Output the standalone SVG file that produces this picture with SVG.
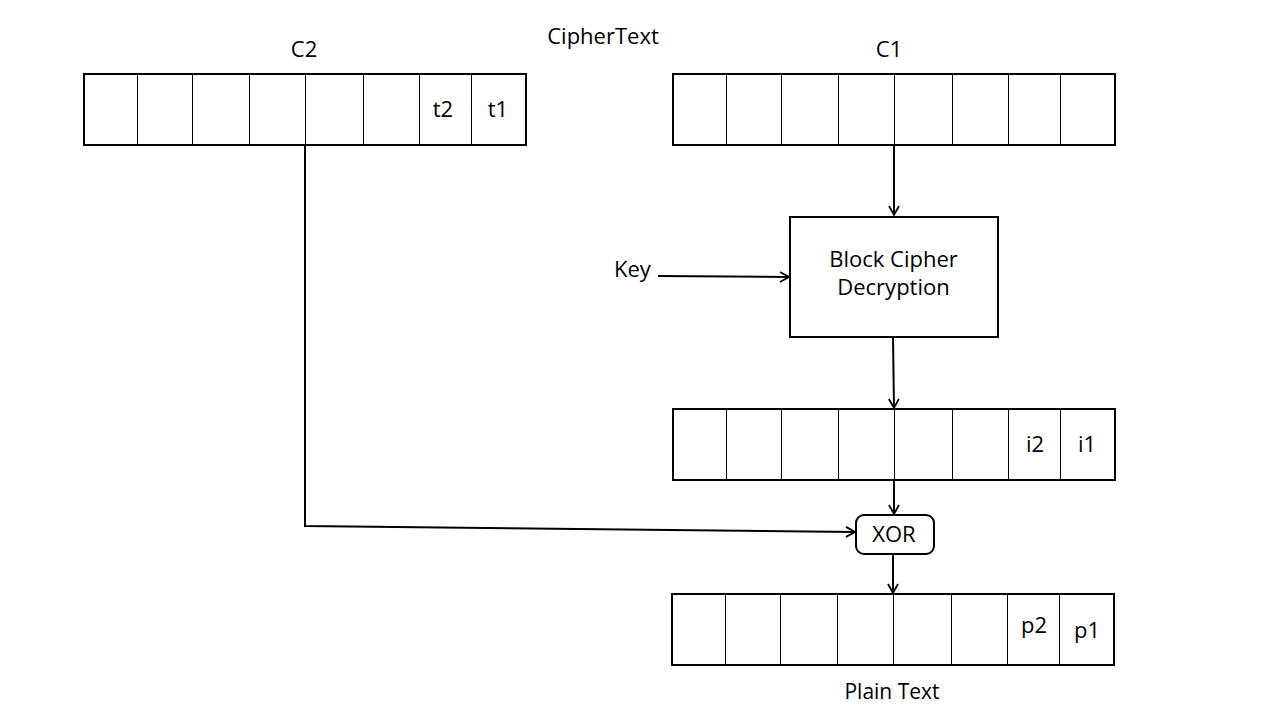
<svg xmlns="http://www.w3.org/2000/svg" width="1280" height="720" viewBox="0 0 1280 720">
<style>
.outer{fill:none;stroke:#000;stroke-width:2}
.div{stroke:#000;stroke-width:1}
.t{font-family:"Open Sans","Liberation Sans",sans-serif;font-size:22px;fill:#000;text-anchor:middle}
.lbl{font-family:"Open Sans","Liberation Sans",sans-serif;font-size:22px;fill:#000}
.conn{fill:none;stroke:#000;stroke-width:2}
</style>
<defs>
<marker id="arr" viewBox="0 0 12 12" refX="10" refY="6" markerWidth="12" markerHeight="12" markerUnits="userSpaceOnUse" orient="auto">
<path d="M1,1 L10,6 L1,11" fill="none" stroke="#000" stroke-width="1.8"/>
</marker>
</defs>
<rect width="1280" height="720" fill="#fff"/>

<text class="t" x="603" y="44">CipherText</text>

<g id="c2">
<text class="t" x="304" y="57">C2</text>
<rect class="outer" x="84" y="74" width="442" height="71"/>
<line class="div" x1="137.5" y1="74" x2="137.5" y2="145"/>
<line class="div" x1="192.5" y1="74" x2="192.5" y2="145"/>
<line class="div" x1="249.5" y1="74" x2="249.5" y2="145"/>
<line class="div" x1="305.5" y1="74" x2="305.5" y2="145"/>
<line class="div" x1="363.5" y1="74" x2="363.5" y2="145"/>
<line class="div" x1="419.5" y1="74" x2="419.5" y2="145"/>
<line class="div" x1="471.5" y1="74" x2="471.5" y2="145"/>
<text class="t" x="443" y="117">t2</text>
<text class="t" x="498" y="117">t1</text>
</g>

<g id="c1">
<text class="t" x="889" y="57">C1</text>
<rect class="outer" x="673" y="74" width="442" height="71"/>
<line class="div" x1="726.5" y1="74" x2="726.5" y2="145"/>
<line class="div" x1="781.5" y1="74" x2="781.5" y2="145"/>
<line class="div" x1="838.5" y1="74" x2="838.5" y2="145"/>
<line class="div" x1="894.5" y1="74" x2="894.5" y2="145"/>
<line class="div" x1="952.5" y1="74" x2="952.5" y2="145"/>
<line class="div" x1="1008.5" y1="74" x2="1008.5" y2="145"/>
<line class="div" x1="1060.5" y1="74" x2="1060.5" y2="145"/>
</g>

<g id="key">
<text class="lbl" x="614" y="277">Key</text>
</g>

<g id="decrypt">
<rect class="outer" x="790" y="217" width="208" height="120"/>
<text class="t" x="893.5" y="267">Block Cipher</text>
<text class="t" x="893.5" y="295">Decryption</text>
</g>

<g id="inter">
<rect class="outer" x="673" y="409" width="442" height="71"/>
<line class="div" x1="726.5" y1="409" x2="726.5" y2="480"/>
<line class="div" x1="781.5" y1="409" x2="781.5" y2="480"/>
<line class="div" x1="838.5" y1="409" x2="838.5" y2="480"/>
<line class="div" x1="894.5" y1="409" x2="894.5" y2="480"/>
<line class="div" x1="952.5" y1="409" x2="952.5" y2="480"/>
<line class="div" x1="1008.5" y1="409" x2="1008.5" y2="480"/>
<line class="div" x1="1060.5" y1="409" x2="1060.5" y2="480"/>
<text class="t" x="1035" y="452">i2</text>
<text class="t" x="1087" y="452">i1</text>
</g>

<g id="xor">
<rect class="outer" x="856" y="515" width="78" height="39" rx="8" ry="8"/>
<text class="t" x="894" y="542">XOR</text>
</g>

<g id="plain">
<rect class="outer" x="672" y="594" width="442" height="71"/>
<line class="div" x1="725.5" y1="594" x2="725.5" y2="665"/>
<line class="div" x1="780.5" y1="594" x2="780.5" y2="665"/>
<line class="div" x1="837.5" y1="594" x2="837.5" y2="665"/>
<line class="div" x1="893.5" y1="594" x2="893.5" y2="665"/>
<line class="div" x1="951.5" y1="594" x2="951.5" y2="665"/>
<line class="div" x1="1007.5" y1="594" x2="1007.5" y2="665"/>
<line class="div" x1="1059.5" y1="594" x2="1059.5" y2="665"/>
<text class="t" x="1034" y="633">p2</text>
<text class="t" x="1087" y="638">p1</text>
<text class="t" x="892" y="699" style="font-size:21px">Plain Text</text>
</g>

<g id="connectors">
<path class="conn" d="M894,145 L894,215" marker-end="url(#arr)"/>
<path class="conn" d="M658,276 L789,277" marker-end="url(#arr)"/>
<path class="conn" d="M893,337 L894,408" marker-end="url(#arr)"/>
<path class="conn" d="M894,480 L894,514" marker-end="url(#arr)"/>
<path class="conn" d="M893,554 L893,593" marker-end="url(#arr)"/>
<path class="conn" d="M305,146 L305,526 L855,532" stroke-width="2.5" marker-end="url(#arr)"/>
</g>
</svg>
